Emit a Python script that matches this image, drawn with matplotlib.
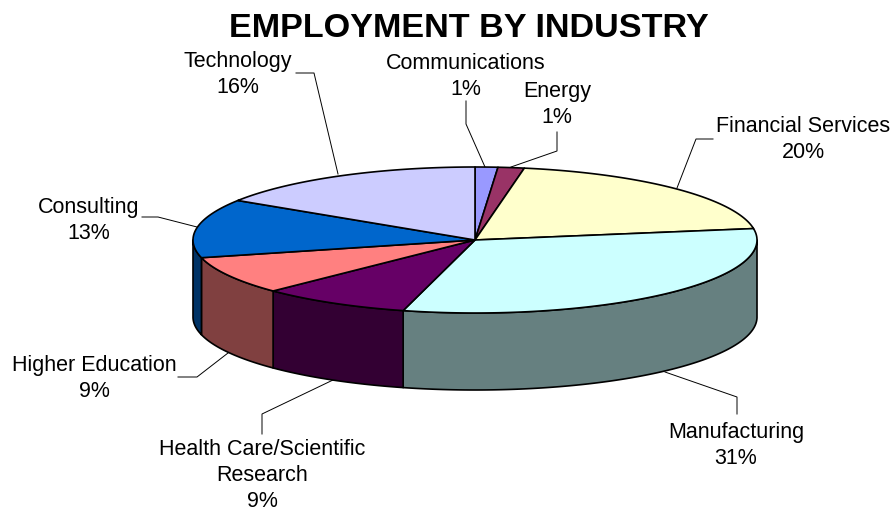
#!/usr/bin/env python3
# -*- coding: utf-8 -*-
import numpy as np
import matplotlib
matplotlib.use('Agg')
import matplotlib.pyplot as plt

plt.rcParams['font.family'] = 'Liberation Sans'

# data, slice sizes (labels are rounded in the original)
industries = ['Communications', 'Energy', 'Financial Services', 'Manufacturing',
              'Health Care/Scientific\nResearch', 'Higher Education', 'Consulting', 'Technology']
shares = [1.3, 1.5, 19.7, 31.6, 8.6, 8.4, 13.0, 15.9]
share_labels = ['1%', '1%', '20%', '31%', '9%', '9%', '13%', '16%']

top_colors = ['#9999FF', '#993366', '#FFFFCC', '#CCFFFF', '#660066', '#FF8080', '#0066CC', '#CCCCFF']
side_colors = ['#4C4C80', '#4C1933', '#808066', '#668080', '#330033', '#804040', '#003366', '#666680']

# layout in pixels
cx, cy = 475, 240
rx, ry = 282, 73
depth = 77
line_step = 26
# baseline of the first line of each label
label_pos = [(466, 69), (557, 97), (803, 132), (736, 438), (262, 455), (94, 371), (89, 213), (238, 67)]
leaders = [
    [(466, 101), (466, 124), (485, 167)],
    [(557, 132), (557, 151), (511, 167)],
    [(713, 139), (696, 139), (677, 188)],
    [(737, 414), (737, 397), (665, 372)],
    [(262, 434), (262, 414), (333, 380)],
    [(178, 377), (197, 377), (228, 353)],
    [(142, 217), (158, 217), (197, 227)],
    [(296, 73), (314, 73), (338, 174)],
]


def arc(start, stop, dy=0):
    # angles clockwise from 12 o'clock, degrees
    t = np.radians(np.linspace(start, stop, max(int(abs(stop - start)) * 2, 2)))
    return cx + rx * np.sin(t), cy - ry * np.cos(t) + dy


fig = plt.figure(figsize=(8.95, 5.12), dpi=100)
ax = fig.add_axes([0, 0, 1, 1])
ax.set_xlim(0, 895)
ax.set_ylim(512, 0)
ax.axis('off')

edges = np.concatenate([[0], np.cumsum(shares)]) / np.sum(shares) * 360

# leader lines go under the pie
for pts in leaders:
    xs, ys = zip(*pts)
    ax.plot(xs, ys, color='black', lw=0.7, zorder=1)

# side walls, only the front half is visible
for i in range(len(shares)):
    a = max(edges[i], 90)
    b = min(edges[i + 1], 270)
    if b <= a:
        continue
    x1, y1 = arc(a, b)
    x2, y2 = arc(a, b, depth)
    ax.fill(np.r_[x1, x2[::-1]], np.r_[y1, y2[::-1]], fc=side_colors[i], ec='black', lw=1.2,
            joinstyle='round', zorder=2)

# top face
for i in range(len(shares)):
    x1, y1 = arc(edges[i], edges[i + 1])
    ax.fill(np.r_[cx, x1], np.r_[cy, y1], fc=top_colors[i], ec='black', lw=1.2,
            joinstyle='round', zorder=3)

# each label line on its own so the block boxes don't collide
for name, pct, (x, y) in zip(industries, share_labels, label_pos):
    for k, line in enumerate(name.split('\n') + [pct]):
        ax.text(x, y + k * line_step, line, ha='center', va='baseline', fontsize=15.5,
                color='black', zorder=4)

ax.text(468.5, 37, 'EMPLOYMENT BY INDUSTRY', ha='center', va='baseline', fontsize=24.6,
        fontweight='bold', color='black')

fig.savefig('out.png', dpi=100)
